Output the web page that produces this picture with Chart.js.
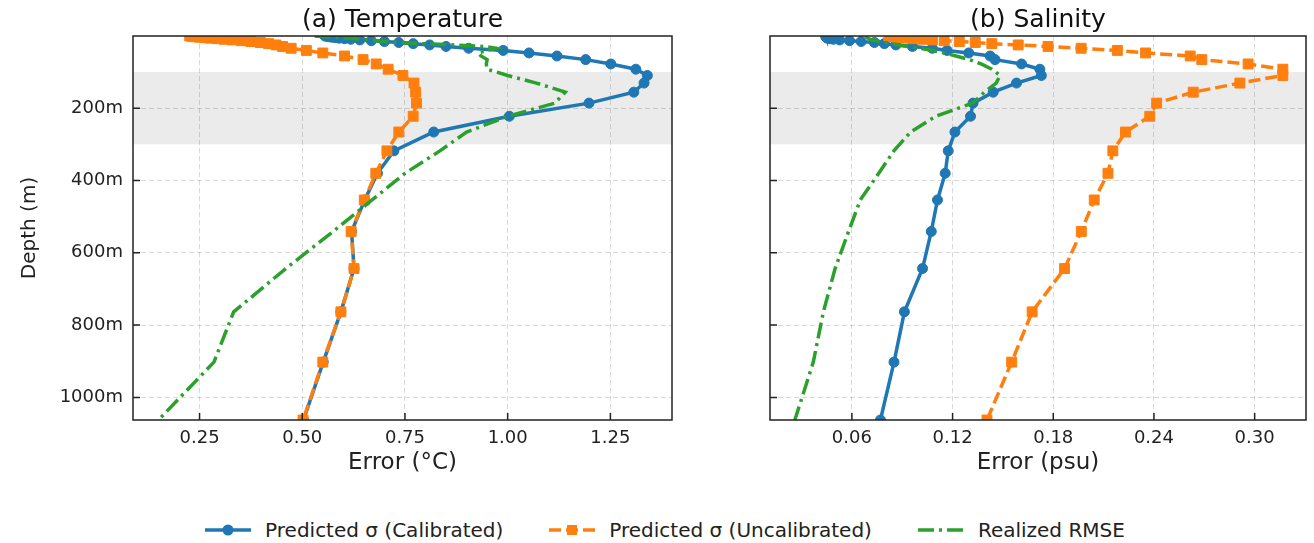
<!DOCTYPE html>
<html>
<head>
<meta charset="utf-8">
<script src="https://cdn.jsdelivr.net/npm/chart.js@4.4.0/dist/chart.umd.min.js"></script>
<style>
  body { margin: 0; background: #fff; font-family: "DejaVu Sans", sans-serif; }
  #wrap { position: relative; width: 1314px; height: 543px; overflow: hidden; }
  #c1 { position: absolute; left: 0; top: 0; }
  #c2 { position: absolute; left: 690px; top: 0; }
  #legend { position: absolute; top: 517px; left: 8px; width: 1314px; height: 26px;
            display: flex; justify-content: center; align-items: center; font-size: 20px; color: #222; }
  .item { display: flex; align-items: center; margin: 0 23px; }
  .item svg { margin-right: 14px; }
</style>
</head>
<body>
<div id="wrap">
  <canvas id="c1" width="690" height="480"></canvas>
  <canvas id="c2" width="624" height="480"></canvas>
  <div id="legend"></div>
</div>
<script>
// profundidades (m)
const depths = [0.494, 1.541, 2.646, 3.819, 5.078, 6.441, 7.93, 9.573, 11.405, 13.467,
  15.81, 18.496, 21.599, 25.211, 29.445, 34.434, 40.344, 47.374, 55.764, 65.807,
  77.854, 92.326, 109.729, 130.666, 155.851, 186.126, 222.475, 266.04, 318.127, 380.213,
  453.938, 541.089, 643.567, 763.333, 902.339, 1062.44];

// temperatura (°C)
const tempCal = [0.555, 0.560, 0.566, 0.572, 0.580, 0.590, 0.603, 0.618, 0.640, 0.668,
  0.700, 0.735, 0.770, 0.810, 0.850, 0.905, 0.989, 1.052, 1.120, 1.190,
  1.251, 1.312, 1.340, 1.332, 1.307, 1.198, 1.004, 0.820, 0.723, 0.683,
  0.652, 0.620, 0.626, 0.594, 0.551, 0.503];
const tempUncal = [0.226, 0.232, 0.240, 0.250, 0.262, 0.276, 0.292, 0.310, 0.330, 0.352,
  0.375, 0.398, 0.418, 0.436, 0.452, 0.473, 0.510, 0.550, 0.603, 0.648,
  0.680, 0.709, 0.745, 0.772, 0.776, 0.778, 0.770, 0.735, 0.706, 0.679,
  0.651, 0.619, 0.626, 0.594, 0.550, 0.502];
const tempRmse = [0.530, 0.545, 0.560, 0.575, 0.592, 0.610, 0.628, 0.645, 0.662, 0.680,
  0.705, 0.740, 0.790, 0.870, 0.945, 0.972, 0.950, 0.928, 0.935, 0.950,
  0.948, 0.950, 1.000, 1.070, 1.140, 1.115, 1.000, 0.900, 0.835, 0.750,
  0.670, 0.575, 0.460, 0.333, 0.285, 0.150];

// salinidad (psu)
const salCal = [0.0445, 0.0445, 0.0446, 0.0447, 0.0449, 0.0455, 0.0470, 0.0490, 0.0527, 0.0586,
  0.0655, 0.0734, 0.0793, 0.0862, 0.0961, 0.1079, 0.1167, 0.1296, 0.1424, 0.1453,
  0.1611, 0.1720, 0.1729, 0.1581, 0.1442, 0.1322, 0.1307, 0.1214, 0.1174, 0.1156,
  0.1110, 0.1073, 0.1021, 0.0913, 0.0851, 0.0770];
const salUncal = [0.0820, 0.0830, 0.0850, 0.0870, 0.0900, 0.0930, 0.0970, 0.1020, 0.1080, 0.1150,
  0.1240, 0.1335, 0.1434, 0.1591, 0.1769, 0.1966, 0.2182, 0.2350, 0.2616, 0.2685,
  0.2961, 0.3168, 0.3168, 0.2912, 0.2634, 0.2416, 0.2375, 0.2230, 0.2155, 0.2126,
  0.2044, 0.1967, 0.1867, 0.1674, 0.1552, 0.1405];
const salRmse = [0.0680, 0.0682, 0.0684, 0.0687, 0.0690, 0.0695, 0.0700, 0.0710, 0.0725, 0.0745,
  0.0770, 0.0800, 0.0835, 0.0880, 0.0940, 0.1000, 0.1080, 0.1150, 0.1220, 0.1300,
  0.1370, 0.1434, 0.1483, 0.1460, 0.1390, 0.1320, 0.1100, 0.0950, 0.0850, 0.0760,
  0.0650, 0.0580, 0.0500, 0.0430, 0.0370, 0.0260];

// ejes
const depthTicks = [200, 400, 600, 800, 1000];
const tempTicks = [0.25, 0.50, 0.75, 1.00, 1.25];
const salTicks = [0.06, 0.12, 0.18, 0.24, 0.30];
const band = [100, 300];
const seriesLabels = ['Predicted σ (Calibrated)', 'Predicted σ (Uncalibrated)', 'Realized RMSE'];

const BLUE = '#1f77b4', ORANGE = '#ff7f0e', GREEN = '#2ca02c';
const FONT = '"DejaVu Sans", sans-serif';

function pts(vals) {
  return vals.map((v, i) => ({ x: v, y: depths[i] }));
}

// franja gris, marco, ticks hacia dentro y título del panel
const panelPlugin = {
  id: 'panel',
  beforeDraw(chart, args, opts) {
    const { ctx, chartArea: a, scales: { y } } = chart;
    const y1 = y.getPixelForValue(opts.band[0]);
    const y2 = y.getPixelForValue(opts.band[1]);
    ctx.save();
    ctx.fillStyle = 'rgba(128,128,128,0.16)';
    ctx.fillRect(a.left, Math.min(y1, y2), a.right - a.left, Math.abs(y2 - y1));
    ctx.restore();
  },
  afterDraw(chart, args, opts) {
    const { ctx, chartArea: a, scales: { x, y } } = chart;
    ctx.save();
    ctx.strokeStyle = '#222';
    ctx.lineWidth = 1.5;
    ctx.beginPath();
    x.ticks.forEach(t => {
      const px = x.getPixelForValue(t.value);
      ctx.moveTo(px, a.bottom);
      ctx.lineTo(px, a.bottom - 7);
    });
    y.ticks.forEach(t => {
      const py = y.getPixelForValue(t.value);
      ctx.moveTo(a.left, py);
      ctx.lineTo(a.left + 7, py);
    });
    ctx.stroke();
    ctx.strokeRect(a.left, a.top, a.right - a.left, a.bottom - a.top);
    ctx.fillStyle = '#111';
    ctx.font = '25px ' + FONT;
    ctx.textAlign = 'center';
    ctx.textBaseline = 'middle';
    ctx.fillText(opts.title, (a.left + a.right) / 2, 20);
    ctx.restore();
  }
};

function makeChart(id, title, cal, uncal, rmse, xMin, xMax, xTicks, xTitle, showY, yWidth, padRight) {
  const grid = { color: 'rgba(0,0,0,0.15)', lineWidth: 1, drawTicks: false };
  const border = { display: false, dash: [5, 3] };
  return new Chart(document.getElementById(id), {
    type: 'line',
    data: {
      datasets: [
        { label: seriesLabels[0], data: pts(cal), borderColor: BLUE, backgroundColor: BLUE,
          borderWidth: 3.5, pointRadius: 5, pointStyle: 'circle', pointBorderWidth: 1, order: 3 },
        { label: seriesLabels[1], data: pts(uncal), borderColor: ORANGE, backgroundColor: ORANGE,
          borderWidth: 3.5, borderDash: [12, 5], pointRadius: 7, pointStyle: 'rect', pointBorderWidth: 1, order: 2 },
        { label: seriesLabels[2], data: pts(rmse), borderColor: GREEN, backgroundColor: GREEN,
          borderWidth: 3.5, borderDash: [16, 5, 3, 5], pointRadius: 0, order: 1 }
      ]
    },
    options: {
      responsive: false,
      animation: false,
      indexAxis: 'y',
      layout: { padding: { top: 36, right: padRight, left: 0, bottom: 0 } },
      elements: { line: { tension: 0, fill: false } },
      plugins: {
        legend: { display: false },
        tooltip: { enabled: false },
        panel: { title: title, band: band }
      },
      scales: {
        x: {
          type: 'linear', position: 'bottom', min: xMin, max: xMax,
          afterBuildTicks: s => { s.ticks = xTicks.map(v => ({ value: v })); },
          afterFit: s => { s.height = 60; },
          grid: grid, border: border,
          ticks: { padding: 8, color: '#222', font: { family: FONT, size: 18 }, callback: v => v.toFixed(2) },
          title: { display: true, text: xTitle, color: '#222', font: { family: FONT, size: 23 },
                   padding: { top: 0, bottom: 3 } }
        },
        y: {
          type: 'linear', position: 'left', reverse: true,
          min: depths[0], max: depths[depths.length - 1],
          afterBuildTicks: s => { s.ticks = depthTicks.map(v => ({ value: v })); },
          afterFit: s => { s.width = yWidth; },
          grid: grid, border: border,
          ticks: { display: showY, padding: 10, color: '#222', font: { family: FONT, size: 18 }, callback: v => v + 'm' },
          title: { display: showY, text: 'Depth (m)', color: '#222', font: { family: FONT, size: 20 },
                   padding: { top: 18, bottom: 0 } }
        }
      }
    },
    plugins: [panelPlugin]
  });
}

makeChart('c1', '(a) Temperature', tempCal, tempUncal, tempRmse, 0.088, 1.40, tempTicks, 'Error (°C)', true, 133, 18);
makeChart('c2', '(b) Salinity', salCal, salUncal, salRmse, 0.0112, 0.3306, salTicks, 'Error (psu)', false, 80, 4);

// leyenda común
const swatches = [
  '<svg width="46" height="14"><line x1="0" y1="7" x2="46" y2="7" stroke="' + BLUE + '" stroke-width="3.5"/><circle cx="23" cy="7" r="5.5" fill="' + BLUE + '"/></svg>',
  '<svg width="46" height="14"><line x1="0" y1="7" x2="46" y2="7" stroke="' + ORANGE + '" stroke-width="3.5" stroke-dasharray="12 5"/><rect x="18" y="2" width="10" height="10" fill="' + ORANGE + '"/></svg>',
  '<svg width="46" height="14"><line x1="0" y1="7" x2="46" y2="7" stroke="' + GREEN + '" stroke-width="3.5" stroke-dasharray="16 5 3 5"/></svg>'
];
document.getElementById('legend').innerHTML = seriesLabels
  .map((l, i) => '<div class="item">' + swatches[i] + '<span>' + l + '</span></div>')
  .join('');
</script>
</body>
</html>
